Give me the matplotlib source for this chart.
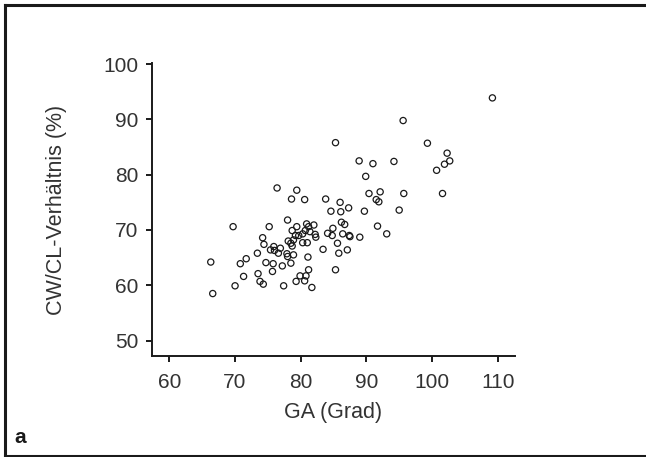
import matplotlib
matplotlib.use("Agg")
import matplotlib.pyplot as plt
from matplotlib.lines import Line2D

# GA (Grad) gegen CW/CL-Verhältnis (%)
ga = [109.2, 95.6, 85.3, 99.3, 102.3, 102.7, 101.9, 100.7, 88.9, 91.0,
      94.2, 89.9, 101.6, 95.7, 90.4, 92.1, 91.5, 91.9, 95.0, 89.7,
      76.4, 79.4, 78.6, 80.6, 83.8, 86.0, 84.6, 86.1, 87.3, 86.2,
      86.7, 91.7, 93.1, 89.0, 87.4, 87.5, 84.9, 84.8, 84.1, 86.4,
      85.6, 85.8, 87.1, 83.4, 85.3, 78.0, 75.2, 69.7, 79.4, 80.9,
      82.0, 81.4, 81.2, 80.7, 80.3, 79.7, 78.7, 79.2, 78.9, 78.1,
      78.5, 78.7, 80.3, 81.0, 82.2, 82.3, 74.2, 74.4, 73.4, 75.4,
      75.9, 76.0, 76.6, 76.9, 77.9, 78.0, 78.9, 81.1, 71.7, 70.8,
      66.3, 74.7, 75.8, 77.2, 78.5, 73.5, 71.3, 75.7, 81.2, 73.8,
      74.3, 70.0, 77.4, 79.3, 79.9, 80.6, 80.8, 81.7, 66.6]
cwcl = [93.9, 89.8, 85.8, 85.7, 83.9, 82.5, 81.9, 80.8, 82.5, 82.0,
        82.4, 79.7, 76.6, 76.6, 76.6, 76.9, 75.5, 75.1, 73.6, 73.4,
        77.6, 77.2, 75.6, 75.5, 75.6, 75.0, 73.4, 73.3, 74.0, 71.4,
        71.0, 70.7, 69.3, 68.7, 69.0, 68.8, 70.3, 69.0, 69.4, 69.3,
        67.6, 65.8, 66.4, 66.5, 62.8, 71.8, 70.6, 70.6, 70.6, 71.1,
        70.9, 69.7, 70.6, 69.9, 69.3, 69.0, 69.9, 69.0, 68.2, 68.0,
        67.6, 67.1, 67.7, 67.7, 69.2, 68.7, 68.6, 67.4, 65.8, 66.4,
        67.0, 66.3, 65.8, 66.7, 65.7, 65.2, 65.5, 65.1, 64.8, 63.9,
        64.2, 64.1, 63.9, 63.5, 64.0, 62.1, 61.6, 62.5, 62.8, 60.7,
        60.2, 59.9, 59.9, 60.7, 61.7, 60.8, 61.7, 59.6, 58.5]

x_ticks = [60, 70, 80, 90, 100, 110]
y_ticks = [50, 60, 70, 80, 90, 100]

plt.rcParams['font.family'] = ['Liberation Sans', 'DejaVu Sans']
txt = '#333333'

fig = plt.figure(figsize=(6.46, 4.57), dpi=100)
ax = fig.add_axes([0.2348, 0.221, 0.562, 0.641])

ax.scatter(ga, cwcl, s=20, facecolors='none', edgecolors='#1a1a1a', linewidths=0.9)

ax.set_xlim(57.3, 112.6)
ax.set_ylim(47.2, 100.2)
ax.set_xticks(x_ticks)
ax.set_yticks(y_ticks)
for side in ('top', 'right'):
    ax.spines[side].set_visible(False)
for side in ('left', 'bottom'):
    ax.spines[side].set_linewidth(1.4)
    ax.spines[side].set_color('#1a1a1a')
ax.tick_params(axis='both', direction='out', length=4.5, width=1.4,
               color='#1a1a1a', labelsize=15, labelcolor=txt)
ax.tick_params(axis='x', pad=8)
ax.tick_params(axis='y', pad=5)

ax.set_xlabel('GA (Grad)', fontsize=15.5, color=txt, labelpad=7)
ax.set_ylabel('CW/CL-Verhältnis (%)', fontsize=15.5, color=txt, labelpad=26)

# Rahmen um die Abbildung (links, oben, unten)
frame = dict(color='#1a1a1a', linewidth=2.2, transform=fig.transFigure)
fig.add_artist(Line2D([0.0085, 0.0085], [0.003, 0.988], **frame))
fig.add_artist(Line2D([0.007, 1.0], [0.988, 0.988], **frame))
fig.add_artist(Line2D([0.007, 1.0], [0.003, 0.003], **frame))

fig.text(0.022, 0.03, 'a', fontsize=15, fontweight='bold', color='#1a1a1a')

fig.savefig('out.png', dpi=100)
